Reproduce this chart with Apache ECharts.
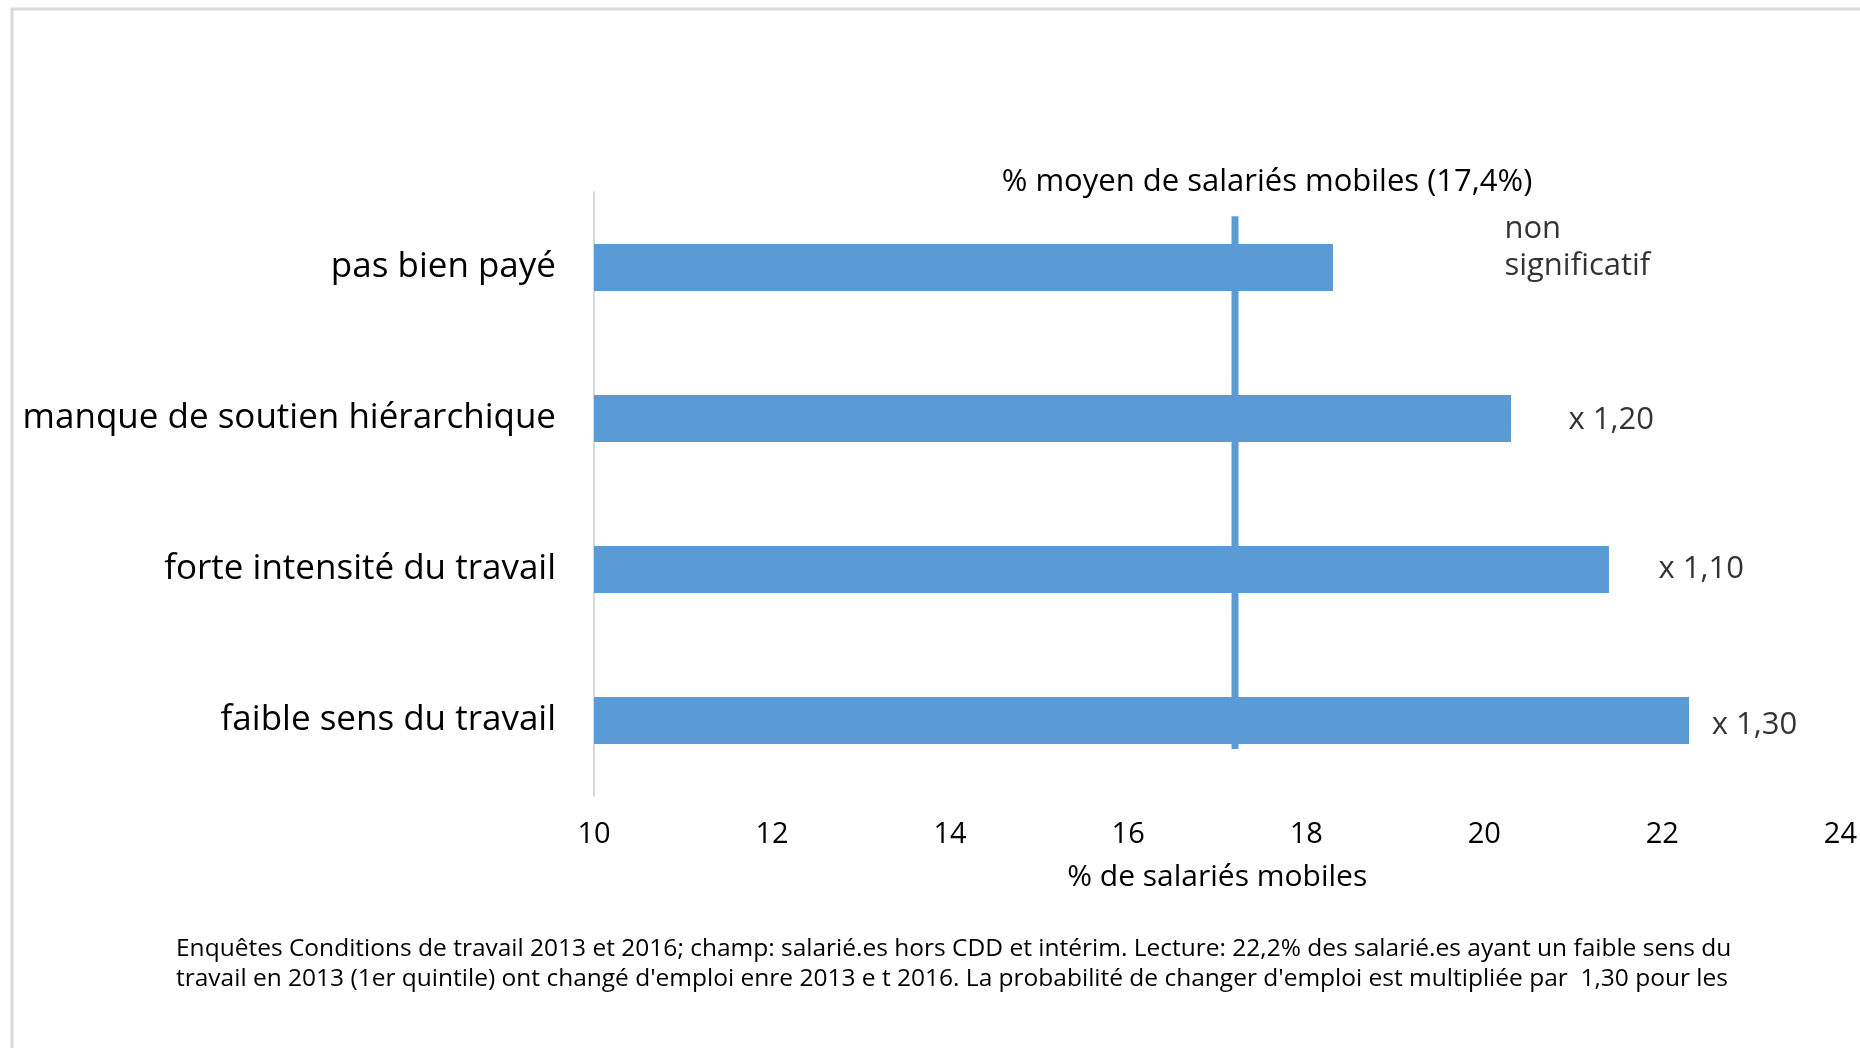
<!DOCTYPE html>
<html>
<head>
<meta charset="utf-8">
<script src="https://cdn.jsdelivr.net/npm/echarts@6/dist/echarts.min.js"></script>
<style>
html,body{margin:0;padding:0;background:#fff;}
#chart{width:1860px;height:1048px;}
</style>
</head>
<body>
<div id="chart"></div>
<script>
// ---- data ----
var categories = ['pas bien payé', 'manque de soutien hiérarchique', 'forte intensité du travail', 'faible sens du travail'];
var values = [18.3, 20.3, 21.4, 22.3];
var meanLineValue = 17.2;
var meanLabel = '% moyen de salariés mobiles (17,4%)';
var annotTexts = ['non\nsignificatif', 'x 1,20', 'x 1,10', 'x 1,30'];
var annotX = [20.22, 20.94, 21.95, 22.55];
var xTicks = {min: 10, max: 24, interval: 2};
var xName = '% de salariés mobiles';
var footnote = ["Enquêtes Conditions de travail 2013 et 2016; champ: salarié.es hors CDD et intérim. Lecture: 22,2% des salarié.es ayant un faible sens du",
                "travail en 2013 (1er quintile) ont changé d'emploi enre 2013 e t 2016. La probabilité de changer d'emploi est multipliée par  1,30 pour les"];

var FONT = '"Open Sans", sans-serif';
var BLUE = '#5B9BD5';

var chart = echarts.init(document.getElementById('chart'));
var annotOffsets = [[0, -20], [0, 2], [0, 0], [0, 5]];
var annotData = annotTexts.map(function (t, i) {
  return {value: [annotX[i], i], label: {formatter: t, offset: annotOffsets[i]}};
});

chart.setOption({
  animation: false,
  backgroundColor: '#fff',
  grid: {left: 594, right: 15, top: 192, bottom: 252, containLabel: false},
  xAxis: {
    type: 'value', min: xTicks.min, max: xTicks.max, interval: xTicks.interval,
    axisLine: {show: false}, axisTick: {show: false}, splitLine: {show: false},
    axisLabel: {fontFamily: FONT, fontSize: 29, color: '#000', margin: 24},
    name: xName, nameLocation: 'middle', nameGap: 66,
    nameTextStyle: {fontFamily: FONT, fontSize: 30, color: '#000'}
  },
  yAxis: [{
    type: 'category', data: categories, inverse: true,
    axisLine: {show: true, lineStyle: {color: '#d9d9d9', width: 2}},
    axisTick: {show: false},
    axisLabel: {fontFamily: FONT, fontSize: 35, color: '#000', margin: 38}
  }, {
    type: 'value', min: 0, max: 1, show: false
  }],
  series: [{
    type: 'bar', data: values, barWidth: 47,
    itemStyle: {color: BLUE}, z: 2
  }, {
    type: 'line', yAxisIndex: 1,
    data: [[meanLineValue, 0.078], [meanLineValue, 0.96]],
    symbol: 'none', lineStyle: {color: BLUE, width: 7, cap: 'butt'}, z: 3
  }, {
    type: 'scatter', data: annotData, symbolSize: 1,
    itemStyle: {color: 'rgba(0,0,0,0)'},
    label: {show: true, position: 'right', distance: 0, fontFamily: FONT, fontSize: 31,
            color: '#000', lineHeight: 37, align: 'left'},
    z: 4
  }],
  graphic: [{
    type: 'rect', shape: {x: 12, y: 9, width: 1900, height: 1100},
    style: {fill: 'none', stroke: '#d9d9d9', lineWidth: 3}, silent: true
  }, {
    type: 'text', x: 1267, y: 182,
    style: {text: meanLabel, fontFamily: FONT, fontSize: 31, fill: '#000',
            textAlign: 'center', textVerticalAlign: 'middle'}
  }, {
    type: 'text', x: 176, y: 949,
    style: {text: footnote[0], fontFamily: FONT, fontSize: 24.5, fill: '#000',
            textAlign: 'left', textVerticalAlign: 'middle'}
  }, {
    type: 'text', x: 176, y: 979,
    style: {text: footnote[1], fontFamily: FONT, fontSize: 24.5, fill: '#000',
            textAlign: 'left', textVerticalAlign: 'middle'}
  }]
});
</script>
</body>
</html>
